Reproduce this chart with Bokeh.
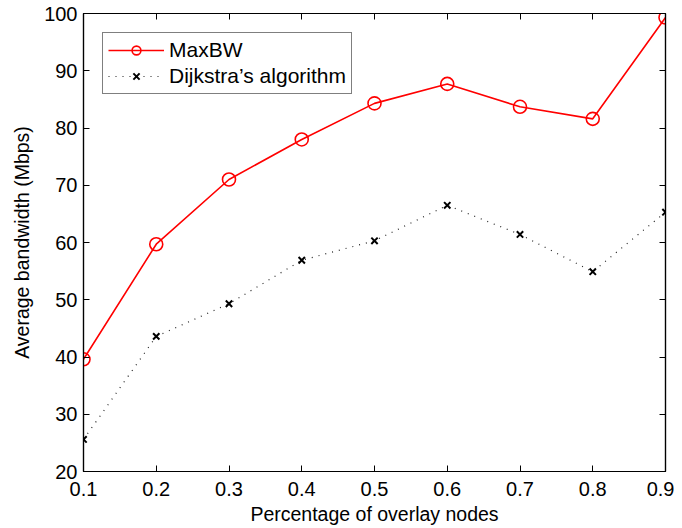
from bokeh.plotting import figure
from bokeh.models import LinearAxis, FixedTicker, Range1d, Legend, LegendItem
from bokeh.embed import file_html
from bokeh.resources import INLINE

x_vals = [0.1, 0.2, 0.3, 0.4, 0.5, 0.6, 0.7, 0.8, 0.9]
maxbw = [39.6, 59.7, 71.0, 78.0, 84.3, 87.7, 83.7, 81.6, 99.3]
dijkstra = [25.6, 43.6, 49.3, 56.9, 60.3, 66.5, 61.4, 54.9, 65.3]
x_ticks = [0.1, 0.2, 0.3, 0.4, 0.5, 0.6, 0.7, 0.8, 0.9]
y_ticks = [20, 30, 40, 50, 60, 70, 80, 90, 100]

FONT = "Liberation Sans"

p = figure(frame_width=582, frame_height=458, output_backend="svg", toolbar_location=None,
           x_range=Range1d(0.1, 0.9), y_range=Range1d(20, 100),
           min_border_left=83, min_border_right=9, min_border_top=13, min_border_bottom=56)
p.grid.visible = False
p.outline_line_color = "black"
p.outline_line_width = 1.2
p.background_fill_color = "white"

def style_axis(ax, ticks, labels=True):
    ax.ticker = FixedTicker(ticks=ticks)
    ax.major_tick_in = 6
    ax.major_tick_out = 0
    ax.minor_tick_in = 0
    ax.minor_tick_out = 0
    ax.axis_line_color = "black"
    ax.axis_line_width = 1.2
    ax.major_tick_line_color = "black"
    ax.major_tick_line_width = 1
    ax.major_label_text_font = FONT
    ax.major_label_text_font_size = "20px" if labels else "0px"
    ax.major_label_text_color = "black" if labels else None
    ax.axis_label_text_font = FONT
    ax.axis_label_text_font_size = "19.5px"
    ax.axis_label_text_font_style = "normal"
    ax.axis_label_text_color = "black"

xa = p.xaxis[0]
style_axis(xa, x_ticks)
xa.major_label_overrides = {t: f"{t:.1f}" for t in x_ticks}
xa.axis_label = "Percentage of overlay nodes"
xa.major_label_standoff = 10
xa.axis_label_standoff = 4

ya = p.yaxis[0]
style_axis(ya, y_ticks)
ya.axis_label = "Average bandwidth (Mbps)"
ya.major_label_standoff = 6
ya.axis_label_standoff = 8

top = LinearAxis()
style_axis(top, x_ticks, labels=False)
top.major_label_standoff = 0
right = LinearAxis()
style_axis(right, y_ticks, labels=False)
right.major_label_standoff = 0
p.add_layout(top, "above")
p.add_layout(right, "right")

l1 = p.line(x_vals, maxbw, line_color="red", line_width=1.6)
s1 = p.scatter(x_vals, maxbw, marker="circle", size=13, line_color="red",
               fill_color=None, line_width=1.6)
l2 = p.line(x_vals, dijkstra, line_color="#222222", line_width=1.2, line_dash="1 6")
s2 = p.scatter(x_vals, dijkstra, marker="x", size=9, line_color="black", line_width=2)

legend = Legend(items=[LegendItem(label="MaxBW", renderers=[l1, s1]),
                       LegendItem(label="Dijkstra\u2019s algorithm", renderers=[l2, s2])],
                location="top_left")
legend.margin = 19
legend.padding = 5
legend.spacing = 2
legend.glyph_width = 56
legend.glyph_height = 22
legend.label_standoff = 5
legend.label_text_font = FONT
legend.label_text_font_size = "21px"
legend.label_text_color = "black"
legend.border_line_color = "black"
legend.border_line_width = 1.2
legend.background_fill_alpha = 1
p.add_layout(legend, "center")

open("out.html", "w").write(file_html(p, INLINE))
